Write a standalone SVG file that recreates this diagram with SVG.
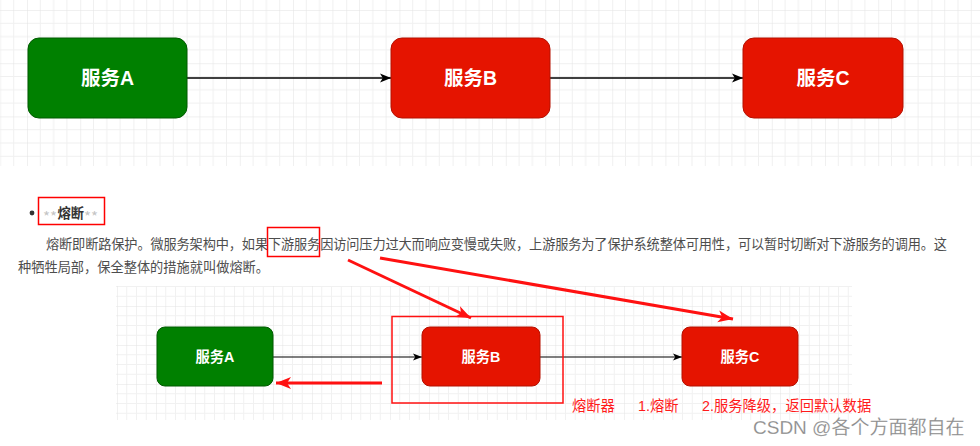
<svg xmlns="http://www.w3.org/2000/svg" width="980" height="446" viewBox="0 0 980 446">
<defs>
<pattern id="g1" patternUnits="userSpaceOnUse" x="27" y="10" width="53.2" height="53.2">
<path d="M13.3 0V53.2M26.6 0V53.2M39.9 0V53.2M0 13.3H53.2M0 26.6H53.2M0 39.9H53.2" stroke="#f0f0f0" stroke-width="1" fill="none"/>
<path d="M0 0V53.2M0 0H53.2" stroke="#e2e2e2" stroke-width="1" fill="none"/>
</pattern>
<pattern id="g2" patternUnits="userSpaceOnUse" x="117" y="306" width="39" height="39">
<path d="M9.75 0V39M19.5 0V39M29.25 0V39M0 9.75H39M0 19.5H39M0 29.25H39" stroke="#f1f1f1" stroke-width="1" fill="none"/>
<path d="M0 0V39M0 0H39" stroke="#e3e3e3" stroke-width="1" fill="none"/>
</pattern>
<marker id="ab" markerUnits="userSpaceOnUse" markerWidth="12" markerHeight="10" refX="11" refY="5" orient="auto" overflow="visible">
<path d="M0 0.5L11 5L0 9.5L2.8 5Z" fill="#000"/>
</marker>
<marker id="ab2" markerUnits="userSpaceOnUse" markerWidth="10" markerHeight="8" refX="9" refY="4" orient="auto" overflow="visible">
<path d="M0 0.5L9 4L0 7.5L2.2 4Z" fill="#000"/>
</marker>
<marker id="ar" markerUnits="userSpaceOnUse" markerWidth="16" markerHeight="12" refX="15" refY="6" orient="auto" overflow="visible">
<path d="M0 0L15 6L0 12L4 6Z" fill="#f11"/>
</marker>
<style>
.n1{font-family:"Liberation Sans","Noto Sans CJK SC",sans-serif;font-weight:bold;fill:#fff;text-anchor:middle}
.t{font-family:"Liberation Sans","Noto Sans CJK SC",sans-serif;fill:#4d4d4d;font-size:13.2px}
.rl{font-family:"Liberation Sans","Noto Sans CJK SC",sans-serif;fill:#ff1a1a;font-size:14.3px}
.green{fill:#008000;stroke:#005a00;stroke-width:1}
.red{fill:#e51400;stroke:#b51000;stroke-width:1}
.ra{stroke:#f11;stroke-width:3;fill:none;marker-end:url(#ar)}
.ast{font-family:"Noto Sans CJK SC",sans-serif;fill:#c4c4c4;font-size:14px}
</style>
</defs>
<rect width="980" height="446" fill="#fff"/>
<rect x="0" y="0" width="980" height="166" fill="url(#g1)"/>
<rect x="116" y="286" width="736" height="134" fill="url(#g2)"/>

<g id="top-connectors">
<line x1="187" y1="78" x2="391" y2="78" stroke="#000" stroke-width="1.4" marker-end="url(#ab)"/>
<line x1="550" y1="78" x2="743" y2="78" stroke="#000" stroke-width="1.4" marker-end="url(#ab)"/>
</g>
<g id="topA"><rect class="green" x="28" y="38" width="159" height="80" rx="11"/><text class="n1" x="107.5" y="85" font-size="19.5">服务A</text></g>
<g id="topB"><rect class="red" x="391" y="38" width="159" height="80" rx="11"/><text class="n1" x="470.5" y="85" font-size="19.5">服务B</text></g>
<g id="topC"><rect class="red" x="743" y="38" width="160" height="80" rx="11"/><text class="n1" x="823" y="85" font-size="19.5">服务C</text></g>

<g id="heading">
<circle cx="32" cy="213" r="2.4" fill="#333"/>
<text class="ast" x="43" y="222" textLength="14" lengthAdjust="spacingAndGlyphs">**</text>
<text x="57.5" y="218" font-family="Liberation Sans,Noto Sans CJK SC,sans-serif" font-size="13.25" fill="#333" font-weight="bold">熔断</text>
<text class="ast" x="84" y="222" textLength="14" lengthAdjust="spacingAndGlyphs">**</text>
<rect x="38.5" y="197.5" width="66" height="27" fill="none" stroke="#f00" stroke-width="1.5"/>
</g>
<g id="paragraph">
<text class="t" x="46" y="249" textLength="901" lengthAdjust="spacing">熔断即断路保护。微服务架构中，如果下游服务因访问压力过大而响应变慢或失败，上游服务为了保护系统整体可用性，可以暂时切断对下游服务的调用。这</text>
<text class="t" x="18" y="272" textLength="251" lengthAdjust="spacing">种牺牲局部，保全整体的措施就叫做熔断。</text>
<rect x="267.5" y="227.5" width="52" height="29" fill="none" stroke="#f00" stroke-width="1.5"/>
</g>

<g id="bottom-connectors">
<line x1="273" y1="357" x2="422" y2="357" stroke="#000" stroke-width="1.1" marker-end="url(#ab2)"/>
<line x1="540" y1="357" x2="682" y2="357" stroke="#000" stroke-width="1.1" marker-end="url(#ab2)"/>
<line class="ra" x1="382" y1="383" x2="276" y2="383"/>
<line class="ra" x1="348" y1="260" x2="471" y2="318"/>
<line class="ra" x1="380" y1="258" x2="733" y2="319"/>
</g>
<g id="botA"><rect class="green" x="157" y="327" width="116" height="59" rx="8"/><text class="n1" x="215" y="362" font-size="14.3">服务A</text></g>
<g id="botB"><rect class="red" x="422" y="327" width="118" height="59" rx="8"/><text class="n1" x="481" y="362" font-size="14.3">服务B</text></g>
<g id="botC"><rect class="red" x="682" y="327" width="116" height="59" rx="8"/><text class="n1" x="740" y="362" font-size="14.3">服务C</text></g>
<g id="breaker">
<rect x="392" y="316.5" width="171" height="86.5" fill="none" stroke="#f11" stroke-width="1.5"/>
</g>
<g id="labels">
<text class="rl" x="572" y="411">熔断器</text>
<text class="rl" x="638" y="411">1.熔断</text>
<text class="rl" x="702" y="411">2.服务降级，返回默认数据</text>
</g>
<text x="753" y="434" font-family="Liberation Sans,Noto Sans CJK SC,sans-serif" font-size="19" fill="#8c8c8c" stroke="#fff" stroke-width="0.3" stroke-opacity="0.5">CSDN @各个方面都自在</text>
</svg>
